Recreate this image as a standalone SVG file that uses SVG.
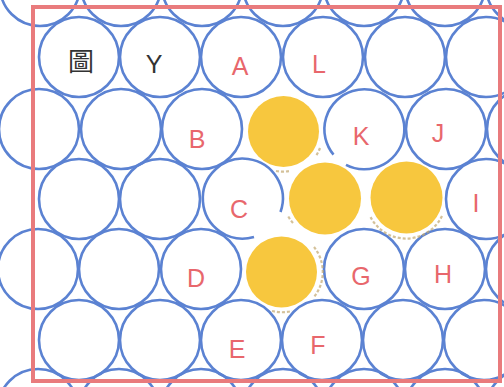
<svg xmlns="http://www.w3.org/2000/svg" width="504" height="387" viewBox="0 0 504 387">
<style>
.c{fill:none;stroke:#5b82d2;stroke-width:2.6}
.y{fill:#f7c73e}
.t{fill:none;stroke:#c2a66e;stroke-width:2.2;stroke-dasharray:3 2;opacity:0.7}
.l{font-family:"Liberation Sans",Arial,sans-serif;font-size:25px;fill:#e8676c;text-anchor:middle}
.k{font-family:"Liberation Sans",Arial,sans-serif;font-size:25px;fill:#333;text-anchor:middle}
.cjk{font-family:"Noto Sans CJK TC","Noto Sans CJK SC",sans-serif;font-size:26px;fill:#333;text-anchor:middle}
</style>
<rect width="504" height="387" fill="#fff"/>
<g id="grid">
<circle class="c" cx="40" cy="-14" r="40"/><circle class="c" cx="121" cy="-14" r="40"/><circle class="c" cx="202" cy="-14" r="40"/><circle class="c" cx="283" cy="-14" r="40"/><circle class="c" cx="364" cy="-14" r="40"/><circle class="c" cx="445" cy="-14" r="40"/><circle class="c" cx="526" cy="-14" r="40"/>
<circle class="c" cx="79" cy="57" r="40"/><circle class="c" cx="160" cy="57" r="40"/><circle class="c" cx="241" cy="57" r="40"/><circle class="c" cx="323" cy="57" r="40"/><circle class="c" cx="405" cy="57" r="40"/><circle class="c" cx="486" cy="57" r="40"/>
<circle class="c" cx="39" cy="129" r="40"/><circle class="c" cx="121" cy="129" r="40"/><circle class="c" cx="202" cy="129" r="40"/><path class="c" d="M333.5 154.7 A40 40 0 1 1 346 164.8"/><circle class="c" cx="446" cy="129" r="40"/><circle class="c" cx="527" cy="129" r="40"/>
<circle class="c" cx="79" cy="199" r="40"/><circle class="c" cx="160" cy="199" r="40"/><path class="c" d="M280.5 212 A40 40 0 1 0 254 237"/><circle class="c" cx="486" cy="199" r="40"/>
<circle class="c" cx="38" cy="269" r="40"/><circle class="c" cx="119" cy="269" r="40"/><circle class="c" cx="201" cy="269" r="40"/><circle class="c" cx="364" cy="269" r="40"/><circle class="c" cx="445" cy="269" r="40"/><circle class="c" cx="526" cy="269" r="40"/>
<circle class="c" cx="79" cy="340" r="40"/><circle class="c" cx="160" cy="340" r="40"/><circle class="c" cx="241" cy="340" r="40"/><circle class="c" cx="322" cy="340" r="40"/><circle class="c" cx="403" cy="340" r="40"/><circle class="c" cx="484" cy="340" r="40"/>
<circle class="c" cx="38" cy="409" r="40"/><circle class="c" cx="119" cy="409" r="40"/><circle class="c" cx="201" cy="409" r="40"/><circle class="c" cx="283" cy="409" r="40"/><circle class="c" cx="364" cy="409" r="40"/><circle class="c" cx="445" cy="409" r="40"/><circle class="c" cx="526" cy="409" r="40"/>
</g>
<g id="traces">
<path class="t" d="M442 216 A40 40 0 0 1 370 216"/>
<path class="t" d="M314 247 A40 40 0 0 1 314 297"/>
<path class="t" d="M272 311 A40 40 0 0 0 292 311"/>
<path class="t" d="M293 223 A40 40 0 0 1 288 216"/>
<path class="t" d="M320 148 A40 40 0 0 1 316 156"/>
<path class="t" d="M276 171 A40 40 0 0 0 290 171"/>
</g>
<g id="yellow">
<circle class="y" cx="283.5" cy="131.5" r="35.5"/>
<circle class="y" cx="325" cy="198.5" r="36"/>
<circle class="y" cx="406.5" cy="197.5" r="36"/>
<circle class="y" cx="281.5" cy="272" r="35.5"/>
</g>
<rect x="33" y="7" width="467" height="374" fill="none" stroke="#e97b7d" stroke-width="4"/>
<g id="labels">
<text class="cjk" x="81" y="71">圖</text>
<text class="k" x="154" y="73">Y</text>
<text class="l" x="240" y="75">A</text>
<text class="l" x="319" y="73">L</text>
<text class="l" x="197" y="148">B</text>
<text class="l" x="361" y="145">K</text>
<text class="l" x="438" y="142">J</text>
<text class="l" x="239" y="218">C</text>
<text class="l" x="476" y="212">I</text>
<text class="l" x="196" y="287">D</text>
<text class="l" x="361" y="285">G</text>
<text class="l" x="443" y="283">H</text>
<text class="l" x="237" y="358">E</text>
<text class="l" x="318" y="354">F</text>
</g>
</svg>
